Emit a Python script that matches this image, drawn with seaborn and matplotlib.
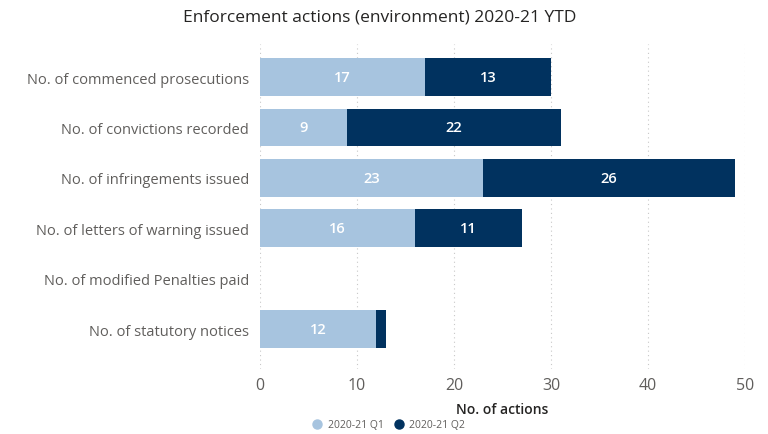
import matplotlib
matplotlib.use("Agg")
import matplotlib.pyplot as plt
import seaborn as sns
import pandas as pd
from matplotlib.lines import Line2D

# 數據
categories = [
    "No. of commenced prosecutions",
    "No. of convictions recorded",
    "No. of infringements issued",
    "No. of letters of warning issued",
    "No. of modified Penalties paid",
    "No. of statutory notices",
]
q1 = [17, 9, 23, 16, 0, 12]
q2 = [13, 22, 26, 11, 0, 1]
x_ticks = [0, 10, 20, 30, 40, 50]

c_q1 = "#A7C4DF"
c_q2 = "#01325F"

sns.set_style("white")
plt.rcParams["font.family"] = ["Open Sans", "DejaVu Sans"]

df = pd.DataFrame({"cat": categories, "q1": q1, "q2": q2})
df["total"] = df["q1"] + df["q2"]

fig = plt.figure(figsize=(7.68, 4.35), dpi=100)
ax = fig.add_axes([260 / 768, 1 - 370 / 435, 485 / 768, 325 / 435])

sns.barplot(data=df, y="cat", x="total", color=c_q2, orient="h", width=0.75,
            saturation=1, linewidth=0, ax=ax)
sns.barplot(data=df, y="cat", x="q1", color=c_q1, orient="h", width=0.75,
            saturation=1, linewidth=0, ax=ax)

# 數據標籤
for i, (a, b) in enumerate(zip(q1, q2)):
    if a >= 3:
        ax.text(a / 2, i, str(a), color="white", ha="center", va="center",
                fontsize=10.5, fontweight="semibold")
    if b >= 3:
        ax.text(a + b / 2, i, str(b), color="white", ha="center", va="center",
                fontsize=10.5, fontweight="semibold")

ax.set_xlim(0, 50)
ax.set_ylim(5.79, -0.655)
ax.set_xticks(x_ticks)
ax.grid(axis="x", color="#C8C8C8", linestyle=(0, (1, 3)), linewidth=0.8)
ax.set_axisbelow(True)
sns.despine(ax=ax, left=True, bottom=True)
ax.tick_params(axis="y", length=0, colors="#605E5C", labelsize=10.5, pad=8)
ax.tick_params(axis="x", length=0, colors="#605E5C", labelsize=11.5, pad=6)
ax.set_ylabel("")
ax.set_xlabel("No. of actions", fontsize=10, color="#252423", labelpad=6,
              fontweight="semibold")

fig.text(380 / 768, 1 - 18 / 435, "Enforcement actions (environment) 2020-21 YTD",
         ha="center", va="center", fontsize=12.5, color="#252423")

handles = [
    Line2D([], [], marker="o", linestyle="", markersize=6.5, color=c_q1, label="2020-21 Q1"),
    Line2D([], [], marker="o", linestyle="", markersize=6.5, color=c_q2, label="2020-21 Q2"),
]
fig.legend(handles=handles, loc="center", bbox_to_anchor=(386 / 768, 1 - 426 / 435),
           ncol=2, frameon=False, fontsize=7.5, handletextpad=0.05, columnspacing=0.4,
           labelcolor="#605E5C")

fig.savefig("out.png", dpi=100)
